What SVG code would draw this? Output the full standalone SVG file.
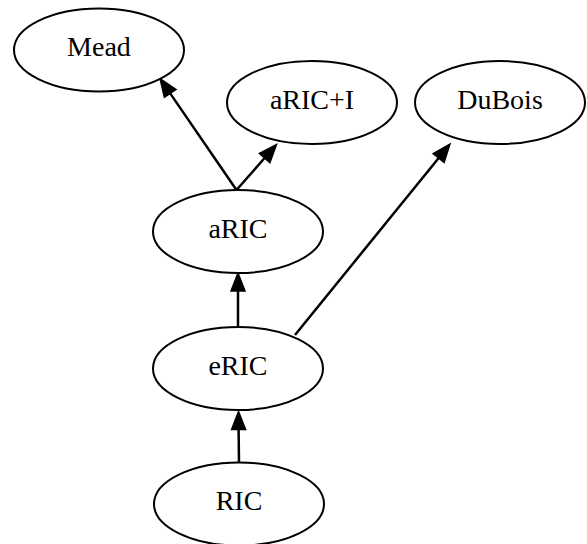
<svg xmlns="http://www.w3.org/2000/svg" width="587" height="544" viewBox="0 0 587 544">
  <style>
    .node ellipse { fill: #ffffff; stroke: #000000; stroke-width: 2; }
    .node text { font-family: "Liberation Serif", "Times New Roman", serif; font-size: 28px; fill: #000000; text-anchor: middle; }
    .edge line { stroke: #000000; stroke-width: 2.5; }
    .edge polygon { fill: #000000; stroke: #000000; stroke-width: 1.5; }
  </style>
  <rect width="587" height="544" fill="#ffffff"/>

  <g id="edges">
    <g class="edge" id="aRIC-Mead">
      <line x1="236.5" y1="190" x2="170.2" y2="93.4"/>
      <polygon points="160,78.5 176,89.4 164.4,97.3"/>
    </g>
    <g class="edge" id="aRIC-aRICI">
      <line x1="236.5" y1="190" x2="264.6" y2="158"/>
      <polygon points="276.5,144.5 269.9,162.6 259.4,153.4"/>
    </g>
    <g class="edge" id="eRIC-aRIC">
      <line x1="238" y1="327" x2="238" y2="291"/>
      <polygon points="238,273 245,291 231,291"/>
    </g>
    <g class="edge" id="eRIC-DuBois">
      <line x1="295" y1="335" x2="438.7" y2="158"/>
      <polygon points="450,144 444.1,162.4 433.2,153.6"/>
    </g>
    <g class="edge" id="RIC-eRIC">
      <line x1="239" y1="463" x2="238.6" y2="429.5"/>
      <polygon points="238.5,411.5 245.6,429.5 231.6,429.5"/>
    </g>
  </g>

  <g class="node" id="Mead">
    <ellipse cx="99" cy="50" rx="85" ry="41.5"/>
    <text x="99" y="56">Mead</text>
  </g>
  <g class="node" id="aRICI">
    <ellipse cx="312" cy="102.5" rx="85" ry="41.5"/>
    <text x="312" y="108.5">aRIC+I</text>
  </g>
  <g class="node" id="DuBois">
    <ellipse cx="500" cy="102.5" rx="85" ry="41.5"/>
    <text x="500" y="108.5">DuBois</text>
  </g>
  <g class="node" id="aRIC">
    <ellipse cx="238" cy="231.5" rx="85" ry="41.5"/>
    <text x="238" y="238">aRIC</text>
  </g>
  <g class="node" id="eRIC">
    <ellipse cx="238" cy="368.5" rx="85" ry="41.5"/>
    <text x="238" y="375">eRIC</text>
  </g>
  <g class="node" id="RIC">
    <ellipse cx="239" cy="504" rx="85" ry="41.5"/>
    <text x="239" y="510">RIC</text>
  </g>
</svg>
